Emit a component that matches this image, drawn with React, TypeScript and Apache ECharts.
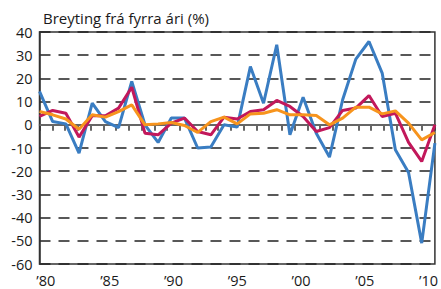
import React, { useEffect, useRef } from "react";
import * as echarts from "echarts";

const categories = ["80","81","82","83","84","85","86","87","88","89","90","91","92","93","94","95","96","97","98","99","00","01","02","03","04","05","06","07","08","09","10"];
const blueSeries = [14.4, 1.4, 0.4, -12.2, 9.3, 1.4, -1.2, 18.7, 0, -7.6, 2.9, 2.9, -10, -9.6, 0, -1, 25.1, 9.3, 34.5, -4.3, 11.9, -3.6, -13.9, 10.8, 28.3, 35.9, 22.3, -10.8, -20.6, -51, -7.9];
const redSeries = [3.6, 6.2, 5.0, -5.3, 3.9, 3.9, 7.2, 16.2, -3.6, -4.3, 0.7, 2.9, -2.9, -4.3, 3.3, 2.5, 5.7, 6.5, 10.5, 7.9, 3.6, -2.9, -1.2, 6.2, 7.2, 12.6, 3.6, 5.0, -7.6, -15.8, 0];
const orangeSeries = [5.7, 4.3, 2.5, -1.9, 4.3, 3.3, 5.7, 8.6, 0, 0.4, 1.0, -0.3, -3.3, 1.4, 3.3, 0.4, 4.7, 5.0, 6.5, 4.3, 4.3, 4.0, 0, 2.9, 7.6, 7.6, 4.7, 6.0, 0.7, -6.5, -3.3];
const title = "Breyting frá fyrra ári (%)";

const FONT = "'Open Sans', 'Noto Sans', sans-serif";

export default function App() {
  const ref = useRef<HTMLDivElement>(null);
  useEffect(() => {
    if (!ref.current) return;
    const chart = echarts.init(ref.current, null, { renderer: "svg" });
    const lineStyle = (color: string) => ({ color, width: 3 });
    chart.setOption({
      animation: false,
      backgroundColor: "#ffffff",
      title: {
        text: title,
        left: 38,
        top: 5,
        textStyle: { fontFamily: FONT, fontSize: 15, fontWeight: "normal", color: "#1a1a1a" },
      },
      grid: {
        left: 39.5,
        right: 3.5,
        top: 32,
        bottom: 25,
        show: true,
        borderColor: "#333",
        borderWidth: 1.5,
        containLabel: false,
      },
      xAxis: [
        {
          type: "category",
          data: categories,
          boundaryGap: true,
          position: "bottom",
          axisLine: { show: true, lineStyle: { color: "#333", width: 1.5 } },
          axisTick: { show: true, interval: 0, length: 6, lineStyle: { color: "#333", width: 1.5 } },
          axisLabel: {
            interval: 4,
            margin: 9,
            formatter: (v: string) => "\u2019" + v,
            fontFamily: FONT,
            fontSize: 14.5,
            color: "#1a1a1a",
          },
          splitLine: { show: false },
        },
        {
          type: "category",
          data: categories,
          boundaryGap: false,
          position: "bottom",
          show: false,
        },
      ],
      yAxis: {
        type: "value",
        min: -60,
        max: 40,
        interval: 10,
        axisLine: { show: true, lineStyle: { color: "#333", width: 1.5 } },
        axisTick: { show: false },
        axisLabel: { margin: 7, fontFamily: FONT, fontSize: 14.5, color: "#1a1a1a" },
        splitLine: { show: true, lineStyle: { color: "#222", width: 1.5, type: [11, 8] } },
      },
      series: [
        {
          type: "line",
          xAxisIndex: 1,
          data: blueSeries,
          symbol: "none",
          lineStyle: lineStyle("#3a7dc2"),
          markLine: {
            silent: true,
            symbol: "none",
            z: 1,
            label: { show: false },
            lineStyle: { type: "solid", color: "#666", width: 2 },
            data: [{ yAxis: 0 }],
          },
        },
        { type: "line", xAxisIndex: 1, data: redSeries, symbol: "none", lineStyle: lineStyle("#c2185b") },
        { type: "line", xAxisIndex: 1, data: orangeSeries, symbol: "none", lineStyle: lineStyle("#f7941d") },
      ],
    });
    return () => chart.dispose();
  }, []);
  return <div ref={ref} style={{ position: "fixed", left: 0, top: 0, width: 441, height: 289 }} />;
}
